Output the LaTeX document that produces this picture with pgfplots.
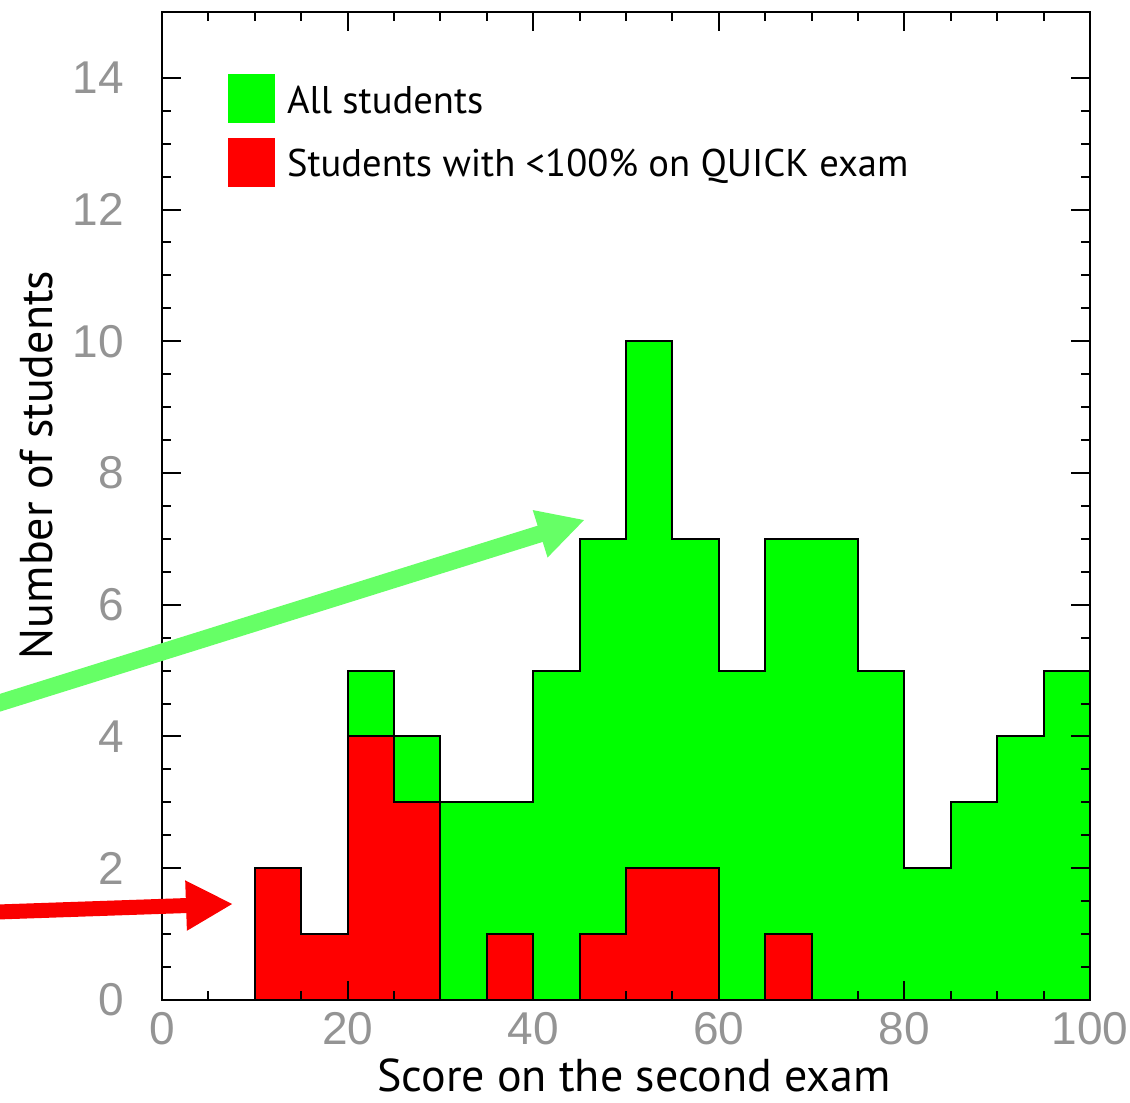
\documentclass[border=0pt]{standalone}
\usepackage{fontspec}
\setmainfont{PT Sans}
\newfontfamily\tickfont{Liberation Sans}
\usepackage{pgfplots}
\pgfplotsset{compat=1.18}
\usetikzlibrary{arrows.meta}

\definecolor{allgreen}{RGB}{0,255,0}
\definecolor{quickred}{RGB}{255,0,0}
\definecolor{arrowgreen}{RGB}{102,255,102}
\definecolor{arrowred}{RGB}{250,0,0}

\begin{document}
\begin{tikzpicture}
\begin{axis}[
    scale only axis,
    width=464pt,
    height=494pt,
    xmin=0, xmax=100,
    ymin=0, ymax=15,
    xtick={0,20,...,100},
    ytick={0,2,...,14},
    minor x tick num=3,
    minor y tick num=3,
    major tick length=9.5pt,
    minor tick length=4.5pt,
    axis on top,
    clip=false,
    axis line style={line width=1pt},
    every tick/.style={black, line width=1pt},
    /pgf/number format/assume math mode=true,
    tick label style={font=\tickfont\fontsize{23}{26}\selectfont, text=black!42, inner sep=0pt},
    xticklabel style={anchor=north, yshift=-6pt},
    yticklabel style={anchor=east, xshift=-19pt},
    label style={font=\fontsize{23}{27}\selectfont},
    xlabel={Score on the second exam},
    ylabel={Number of students},
    xlabel style={at={(rel axis cs:0.5086,-0.0931)}, anchor=base, inner sep=0pt, text depth=0pt},
    ylabel style={at={(rel axis cs:-0.1185,0.5415)}, anchor=base},
    legend image code/.code={\path[#1, draw=none] (0pt,-5pt) rectangle (23.5pt,19.5pt);},
    legend style={draw=none, fill=none, at={(rel axis cs:0.0711,0.9372)}, anchor=north west,
        inner sep=0pt, outer sep=0pt, row sep=7.5pt, column sep=6pt,
        font=\fontsize{19.3}{23}\selectfont, cells={anchor=base west},
        nodes={inner sep=0pt, outer sep=0pt}},
]
\addplot[const plot, fill=allgreen, draw=black, line width=1pt] coordinates {
    (0,0) (5,0) (10,2) (15,1) (20,5) (25,4) (30,3) (35,3) (40,5) (45,7)
    (50,10) (55,7) (60,5) (65,7) (70,7) (75,5) (80,2) (85,3) (90,4) (95,5) (100,5)
} \closedcycle;
\addlegendentry{All students}
\addplot[const plot, fill=quickred, draw=black, line width=1pt] coordinates {
    (0,0) (5,0) (10,2) (15,1) (20,4) (25,3) (30,0) (35,1) (40,0) (45,1)
    (50,2) (55,2) (60,0) (65,1) (70,0) (75,0) (80,0) (85,0) (90,0) (95,0) (100,0)
} \closedcycle;
\addlegendentry{Students with <100\% on QUICK exam}

% arrow ends, drawn after the axis so they lie over the frame
\coordinate (gtail) at (axis cs:-20,4.40);
\coordinate (ghead) at (axis cs:45.58,7.29);
\coordinate (rtail) at (axis cs:-20,1.324);
\coordinate (rhead) at (axis cs:7.65,1.457);
\coordinate (bbsw) at (rel axis cs:-0.1746,-0.1043);
\coordinate (bbne) at (rel axis cs:1.0431,1.0121);
\end{axis}
\draw[arrowgreen, line width=8.5pt, -{Triangle[length=23.5pt, width=23pt]}] (gtail) -- (ghead);
\draw[arrowred, line width=7.5pt, -{Triangle[length=23.5pt, width=23.5pt]}] (rtail) -- (rhead);
\pgfresetboundingbox
\path (bbsw) rectangle (bbne);
\end{tikzpicture}
\end{document}
